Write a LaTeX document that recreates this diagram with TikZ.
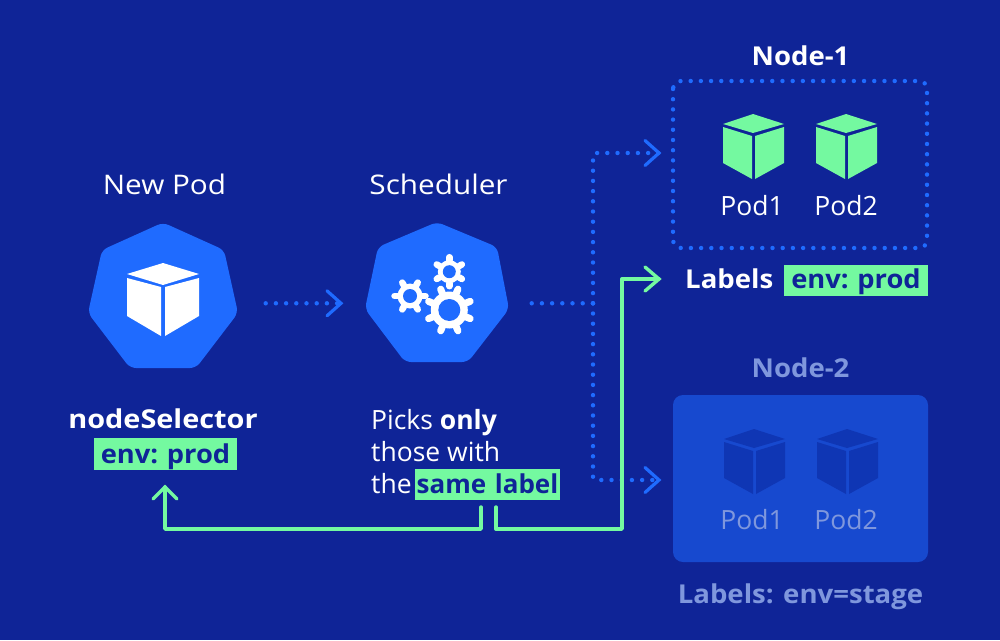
\documentclass[tikz,border=0pt]{standalone}
\usepackage{fontspec}
\setmainfont{Open Sans}
\newfontfamily\titlefont[FakeStretch=1.1]{Open Sans}
\newfontfamily\headfont[FakeStretch=1.06]{Open Sans}
\newfontfamily\selfont[FakeStretch=1.11]{Open Sans}
\newfontfamily\pillfont[FakeStretch=1.05,WordSpace=0.6]{Open Sans}
\newfontfamily\samefont[WordSpace=0.6]{Open Sans}
\definecolor{bg}{HTML}{0F2497}
\definecolor{blu}{HTML}{1F6BFF}
\definecolor{grn}{HTML}{74F9A0}
\definecolor{boxb}{HTML}{1749CF}
\definecolor{cubeb}{HTML}{0F36B4}
\definecolor{dimt}{HTML}{7F97DD}
\tikzset{
  txt/.style={anchor=base,inner sep=0pt,text=white,font=\fontsize{26.5}{32}\selectfont},
  ttxt/.style={txt,font=\titlefont\fontsize{27}{32}\selectfont},
  btxt/.style={txt,font=\headfont\fontsize{26}{32}\selectfont\bfseries},
  dimtxt/.style={txt,text=dimt},
  dimbtxt/.style={btxt,text=dimt},
  pill/.style={anchor=base,inner sep=0pt,fill=grn,text=bg,align=center,font=\pillfont\fontsize{26}{32}\selectfont\bfseries\frenchspacing},
  dotline/.style={draw=blu,line width=4.4pt,line cap=round,dash pattern=on 0pt off 10.2pt},
  chev/.style={draw=blu,line width=3.2pt,line cap=round,line join=miter},
  grnline/.style={draw=grn,line width=3.4pt,line cap=round,line join=round},
  chevg/.style={draw=grn,line width=3.4pt,line cap=round,line join=miter},
}
\newcommand{\cubeshape}[3]{% dx dy colour
  \begin{scope}[shift={(#1,#2)}]
    \fill[#3] (0,0) -- (31,10) -- (0,19) -- (-30,10) -- cycle;
    \fill[#3] (-30,13) -- (-1,22) -- (-1,65) -- (-30,49) -- cycle;
    \fill[#3] (31,13) -- (2,22) -- (2,65) -- (31,49) -- cycle;
  \end{scope}}
\newcommand{\gearshape}[8]{% cx cy root toothlen hole teeth rot toothwidth
  \begin{scope}[shift={(#1,#2)}]
    \foreach \gi in {1,...,#6}{
      \draw[white,line width=#8,line cap=round] ({#7+\gi*360/#6}:#3) -- ({#7+\gi*360/#6}:#4);
    }
    \fill[white] (0,0) circle (#3);
    \fill[blu] (0,0) circle (#5);
  \end{scope}}
\begin{document}
\begin{tikzpicture}[x=1pt,y=-1pt]
\useasboundingbox (0,0) rectangle (1000,640);
\fill[bg] (0,0) rectangle (1000,640);

% heptagons
\fill[blu,rounded corners=6pt] (163,222.5) -- (224,250) -- (238,313) -- (196,368) -- (130,368) -- (88,313) -- (102,250) -- cycle;
\fill[blu,rounded corners=6pt] (437,222) -- (497,247) -- (509,309) -- (468,362) -- (405,362) -- (365,309) -- (378,247) -- cycle;

% white cube
\fill[white] (163,263) -- (199,274) -- (163,285) -- (127,274) -- cycle;
\fill[white] (127,278) -- (161,287) -- (161,336) -- (127,316) -- cycle;
\fill[white] (199,278) -- (165,287) -- (165,336) -- (199,316) -- cycle;

% gears
\gearshape{449.3}{310}{18.5}{22.5}{11}{8}{22.5}{7pt}
\gearshape{449.3}{271.7}{11.5}{14.5}{6.5}{6}{30}{6.5pt}
\gearshape{410}{296}{12.5}{15.5}{7}{6}{0}{6.5pt}

% node boxes
\draw[dotline,rounded corners=8pt] (673,81) rectangle (927,248);
\fill[boxb,rounded corners=10pt] (673,395) rectangle (928,562);

% cubes
\cubeshape{753}{114}{grn}
\cubeshape{846}{114}{grn}
\cubeshape{754}{429}{cubeb}
\cubeshape{847}{429}{cubeb}

% texts
\node[ttxt] (newpod) at (164.5,194) {New Pod};
\node[ttxt] (sched) at (438.5,194) {Scheduler};
\node[btxt] (node1) at (800.5,65) {Node-1};
\node[txt] (p11) at (752,215) {Pod1};
\node[txt] (p12) at (846,215) {Pod2};
\node[btxt,anchor=base west] (lab1) at (685,288) {Labels};
\node[pill,text height=23pt,text depth=8pt,text width=144pt] (envprod1) at (856,288) {env: prod};
\node[dimbtxt] (node2) at (800.5,377) {Node-2};
\node[dimtxt] (p21) at (752,529) {Pod1};
\node[dimtxt] (p22) at (846,529) {Pod2};
\node[dimbtxt] (lab2) at (800.5,603) {Labels: env=stage};
\node[btxt,font=\selfont\fontsize{26}{32}\selectfont\bfseries] (nsel) at (163,428) {nodeSelector};
\node[pill,text height=25pt,text depth=7pt,text width=143pt] (envprod2) at (165.5,463) {env: prod};
\node[txt,anchor=base west] (pick1) at (371,429) {Picks \textbf{only}};
\node[txt,anchor=base west] (pick2) at (371,461) {those with};
\node[txt,anchor=base west] (pick3) at (371,493) {the};
\node[pill,text height=24pt,text depth=7pt,text width=145pt,font=\samefont\fontsize{26}{32}\selectfont\bfseries] (same) at (487.5,493) {\mbox{same label}};

% coordinates
\coordinate (a1) at (265.7,303.3);
\coordinate (a2) at (341,303.3);
\coordinate (b1) at (531.7,303.3);
\coordinate (b2) at (593,303.3);
\coordinate (c2) at (659,153);
\coordinate (d2) at (659,480);
\coordinate (e1) at (481,507);
\coordinate (e2) at (165,487);
\coordinate (f1) at (496,507);
\coordinate (f2) at (659,279);

% dotted connectors
\draw[dotline] (a1) -- (a2);
\draw[chev] ([shift={(-14,-12.5)}]a2) -- (a2) -- ([shift={(-14,12.5)}]a2);
\draw[dotline] (b1) -- (b2);
\draw[dotline,rounded corners=3pt] (b2) |- (c2);
\draw[dotline,rounded corners=3pt] (b2) |- (d2);
\draw[chev] ([shift={(-14,-12.5)}]c2) -- (c2) -- ([shift={(-14,12.5)}]c2);
\draw[chev] ([shift={(-14,-12.5)}]d2) -- (d2) -- ([shift={(-14,12.5)}]d2);

% green connectors
\draw[grnline] (e1) -- (481,529) -- (165,529) -- (e2);
\draw[chevg] ([shift={(-12,12)}]e2) -- (e2) -- ([shift={(12,12)}]e2);
\draw[grnline] (f1) -- (496,529) -- (622,529) -- (622,279) -- (f2);
\draw[chevg] ([shift={(-14,-12)}]f2) -- (f2) -- ([shift={(-14,12)}]f2);
\end{tikzpicture}
\end{document}
